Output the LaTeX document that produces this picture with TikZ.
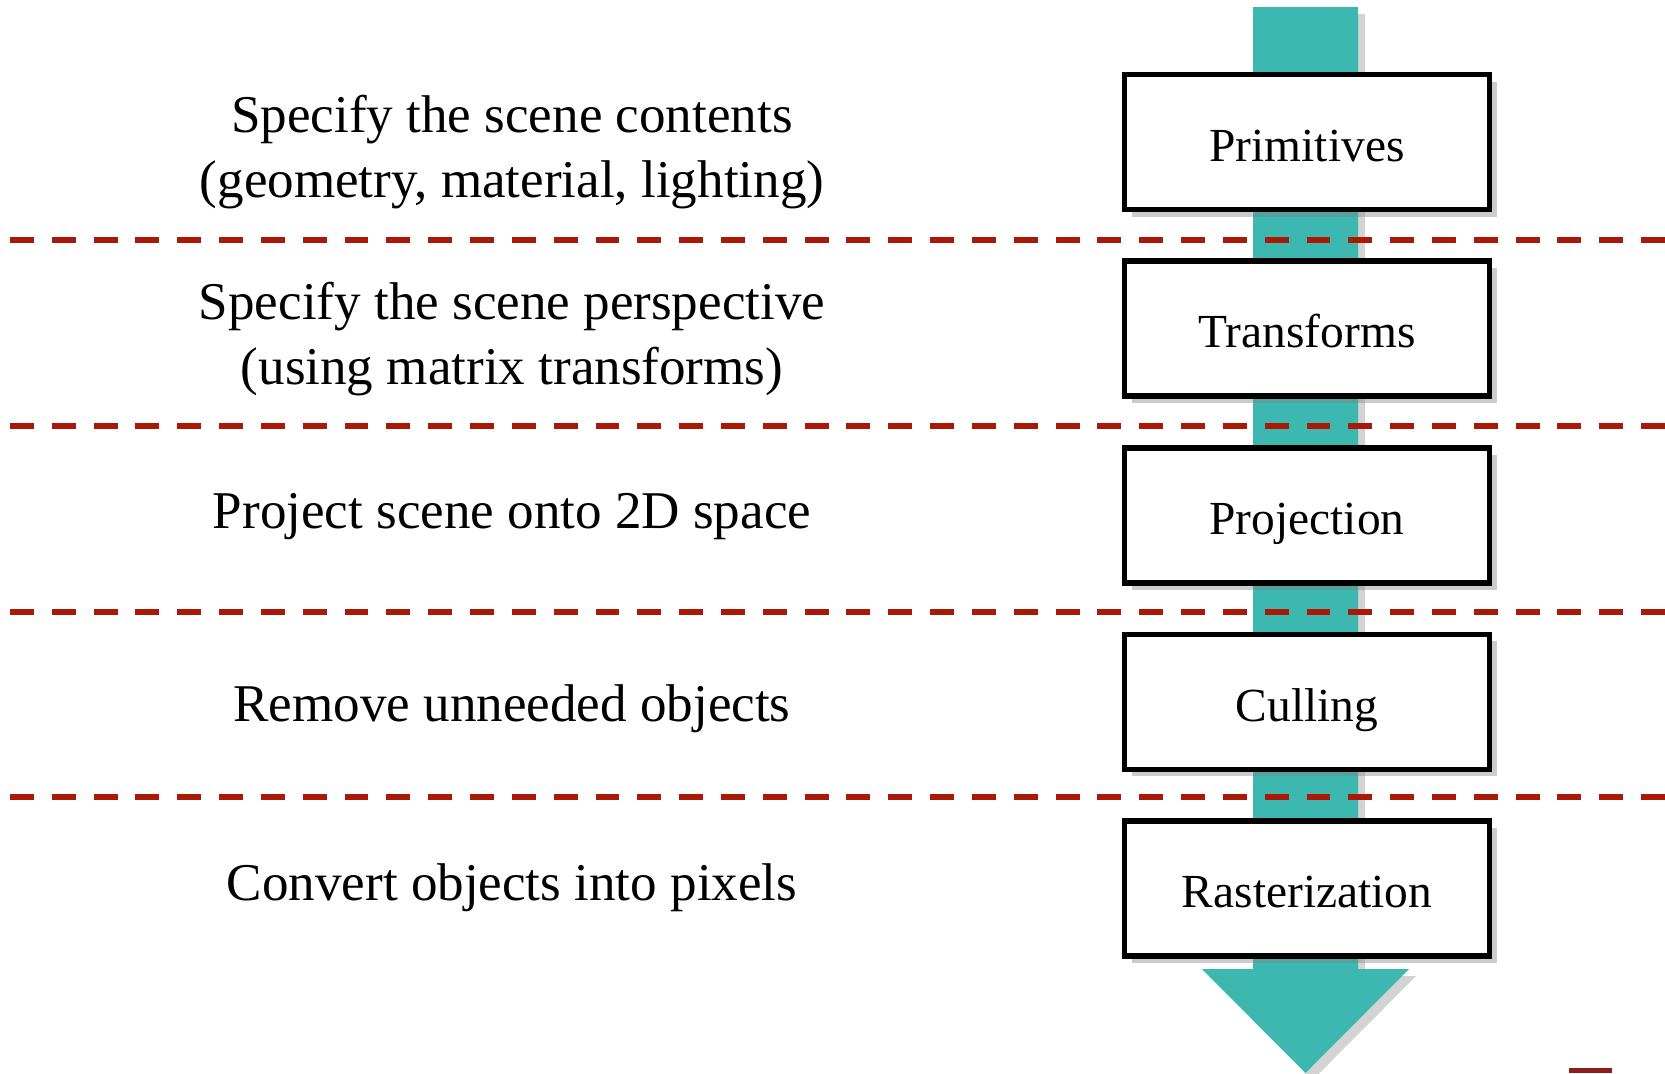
\documentclass[tikz,border=0pt]{standalone}
\usepackage{fontspec}
\setmainfont{Liberation Serif}
\usetikzlibrary{positioning,shadows}

\definecolor{pipeteal}{RGB}{61,184,176}
\definecolor{sepred}{RGB}{170,24,8}
\definecolor{markred}{RGB}{140,30,30}

\tikzset{
  stagebox/.style={draw=black, line width=1.6pt, fill=white,
    minimum width=3.65cm, minimum height=1.35cm, inner sep=0pt,
    text height=11pt, text depth=0pt,
    font=\fontsize{13.5}{16}\selectfont,
    drop shadow={shadow xshift=2pt, shadow yshift=-2pt, opacity=0.4}},
  stagetext/.style={align=center, font=\fontsize{15.1}{18.5}\selectfont},
  sepline/.style={draw=sepred, line width=1.7pt, dash pattern=on 6.8pt off 5.1pt},
}

\begin{document}
\begin{tikzpicture}

  \useasboundingbox (0,0) rectangle (16.65,-10.73);

  % Pipeline arrow (behind everything)
  \fill[pipeteal, drop shadow={shadow xshift=2pt, shadow yshift=-2pt, opacity=0.35}]
    (12.53,-0.07) -- (13.58,-0.07) -- (13.58,-9.69) -- (14.09,-9.69) --
    (13.055,-10.73) -- (12.02,-9.69) -- (12.53,-9.69) -- cycle;

  % Separators between stages
  \foreach \y in {-2.40,-4.26,-6.12,-7.97} {
    \draw[sepline] (0.10,\y) -- (16.65,\y);
  }

  % Stage boxes
  \node[stagebox] (prims) at (13.07,-1.42) {Primitives};
  \node[stagebox, below=0.46cm of prims] (xforms) {Transforms};
  \node[stagebox, below=0.46cm of xforms] (proj) {Projection};
  \node[stagebox, below=0.46cm of proj] (cull) {Culling};
  \node[stagebox, below=0.46cm of cull] (raster) {Rasterization};

  % Descriptions
  \node[stagetext] (prims-text) at (5.12,-1.52)
    {Specify the scene contents\\(geometry, material, lighting)};
  \node[stagetext] (xforms-text) at (5.12,-3.39)
    {Specify the scene perspective\\(using matrix transforms)};
  \node[stagetext] (proj-text) at (5.12,-5.17) {Project scene onto 2D space};
  \node[stagetext] (cull-text) at (5.12,-7.09) {Remove unneeded objects};
  \node[stagetext] (raster-text) at (5.12,-8.88) {Convert objects into pixels};

  % Footer mark
  \fill[markred] (15.69,-10.68) rectangle (16.12,-10.73);

\end{tikzpicture}
\end{document}
